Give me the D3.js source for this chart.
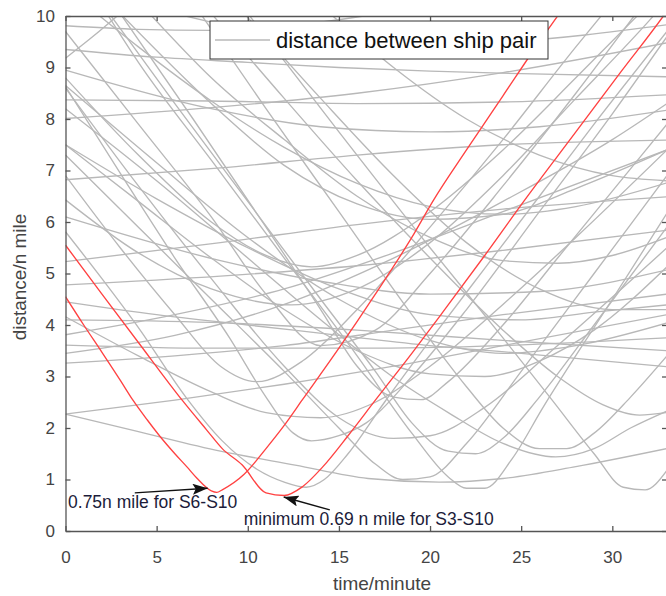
<!DOCTYPE html>
<html lang="en">
<head>
<meta charset="utf-8"/>
<title>distance between ship pair</title>
<script src="https://d3js.org/d3.v7.min.js"></script>
<style>
  body { margin: 0; background: #fff; }
  svg { display: block; font-family: "Liberation Sans", Arial, sans-serif; }
  .grey { fill: none; stroke: #b8b8b8; stroke-width: 1.35; }
  .red { fill: none; stroke: #ff4242; stroke-width: 1.35; }
  .axis path, .axis line { stroke: #555; stroke-width: 1.3; }
  .axis text { fill: #444; font-size: 17px; font-family: "Liberation Sans", Arial, sans-serif; }
  .note { fill: #1c1c3a; font-size: 17.5px; }
</style>
</head>
<body>
<svg id="chart" width="666" height="596"></svg>
<script>
// ticks
const xTicks = [0, 5, 10, 15, 20, 25, 30];
const yTicks = [0, 1, 2, 3, 4, 5, 6, 7, 8, 9, 10];

// red pairs [time, distance]
const pairS6S10 = [[0,4.55],[1,4.0],[2,3.47],[3,2.93],[3.7,2.54],[4.5,2.15],[5.2,1.83],[6,1.5],[6.65,1.25],[7.2,1.03],[8,0.78],[8.3,0.75],[8.6,0.8],[9.8,1.1],[11,1.6],[12,2.05],[13,2.55],[15,3.55],[17,4.6],[19,5.7],[20.2,6.43],[22,7.4],[24,8.45],[26,9.5],[27.1,10.05]];
const pairS3S10 = [[0,5.55],[2,4.6],[4,3.66],[6.4,2.54],[7.75,1.96],[8.6,1.6],[9.7,1.28],[11,0.74],[12,0.69],[13,0.86],[14.1,1.24],[15.5,1.85],[17,2.54],[19,3.45],[20.7,4.25],[23,5.35],[25.2,6.43],[28,7.75],[30.5,8.93],[32.8,10.0],[33,10.1]];

// the other ship pairs (grey)
const greyPairs = [
  [[0,9.81],[4,9.74],[8,9.72],[12,9.8],[16,9.98],[18,10.1]],
  [[0,9.35],[5,9.2],[10,9.1],[15,9.0],[20,8.93],[25,8.88],[33,8.82]],
  [[0,9.18],[1.5,9.6],[3,10.05]],
  [[0,8.95],[8,8.2],[14,7.85],[20,7.75],[26,7.85],[33,8.17]],
  [[0,8.63],[3,6.95],[6,5.3],[9,3.75],[11,2.6],[12.5,1.9],[13.5,1.75],[15,1.85],[16.5,2.1],[19,3.0],[22,4.3],[26,6.2],[30,8.1],[33,9.6]],
  [[0,8.6],[4,6.7],[8,4.9],[12,3.2],[15,2.2],[18,1.8],[20,1.85],[23,2.4],[27,3.6],[33,5.5]],
  [[0,8.65],[5,7.15],[10,5.7],[15,4.5],[20,3.7],[24,3.45],[28,3.6],[33,4.04]],
  [[0,8.37],[8,8.35],[16,8.3],[24,8.33],[33,8.47]],
  [[0,8.01],[8,8.22],[16,8.5],[24,8.9],[33,9.48]],
  [[0,7.5],[4,6.4],[8,5.3],[12,4.3],[16,3.5],[20,3.05],[23,3.0],[26,3.3],[29,3.9],[33,5.13]],
  [[0,7.5],[5,6.45],[10,5.5],[15,4.7],[20,4.2],[25,4.1],[29,4.25],[33,4.39]],
  [[0,7.3],[4,5.9],[8,4.5],[12,3.1],[15,2.0],[17,1.3],[18.5,1.0],[20,1.05],[22,1.7],[25,3.1],[29,5.0],[33,6.9]],
  [[0,6.82],[8.5,7.05],[16,7.3],[24,7.5],[33,7.59]],
  [[0,6.1],[8.5,5.25],[14,4.85],[20,4.6],[26,4.65],[33,5.07]],
  [[0,5.81],[2,4.9],[4,3.95],[6.6,2.6],[8.6,1.75],[10.5,1.2],[12,0.95],[13.2,0.85],[14.2,1.0],[15.5,1.5],[17.5,2.5],[20,3.7],[23,5.1],[26,6.5],[29,7.9],[33,9.7]],
  [[0,5.23],[8.5,5.6],[16,5.95],[24,6.25],[33,6.49]],
  [[0,4.78],[8.5,4.95],[16,5.15],[24,5.45],[33,5.84]],
  [[0,4.45],[5,4.2],[10,4.0],[15,3.8],[20,3.6],[25,3.45],[33,3.19]],
  [[0,4.16],[4,3.4],[8,2.7],[11,2.3],[14,2.2],[17,2.5],[20,3.2],[24,4.4],[28,5.7],[33,7.4]],
  [[0,4.1],[8,4.05],[16,3.9],[24,3.7],[33,3.5]],
  [[0,3.81],[6,4.2],[12,4.7],[18,5.4],[24,6.2],[33,7.4]],
  [[0,3.61],[8,3.55],[16,3.55],[24,3.6],[33,3.75]],
  [[0,3.45],[6,3.8],[12,4.4],[18,5.3],[24,6.4],[30,7.6],[33,8.3]],
  [[0,3.26],[6,3.4],[12,3.6],[18,3.9],[24,4.2],[33,4.6]],
  [[0,2.27],[6,2.54],[12,2.85],[18,3.2],[24,3.6],[33,4.2]],
  [[0,2.27],[4,1.93],[8.5,1.55],[12.6,1.28],[16.6,1.02],[20.5,0.95],[24,1.02],[28,1.25],[33,1.6]],
  [[1.7,10.05],[4,9.4],[8,8.35],[12,7.45],[16,6.75],[20,6.3],[24,6.15],[28,6.3],[33,6.76]],
  [[2,10.2],[4,9.1],[8,7.2],[12,5.3],[16,3.4],[19,1.9],[21,1.05],[22,0.83],[23,0.83],[24.5,1.4],[26.2,2.4],[30,4.5],[33,6.17]],
  [[10,10.05],[15,7.75],[20,5.5],[24,3.75],[26.7,2.54],[29,1.5],[30.6,0.85],[31.8,0.8],[33,1.18]],
  [[0,8.2],[5,6.8],[10,5.3],[14,4.1],[18,2.98],[21,2.3],[24,1.7],[26.9,1.44],[29,1.6],[31,2.0],[33,2.33]],
  [[2.4,10.05],[6,8.3],[10,6.4],[14,4.5],[17,3.1],[19,2.1],[21,1.55],[22.5,1.5],[24,1.8],[26,2.6],[29,4.0],[33,5.9]],
  [[4.6,10.05],[8,8.8],[12,7.6],[16,6.5],[20,5.7],[24,5.25],[27,5.2],[30,5.35],[33,5.7]],
  [[7.4,10.05],[11,8.2],[15,6.2],[19,4.2],[22,2.8],[24,2.0],[26,1.6],[27.5,1.6],[29,1.9],[31,2.6],[33,3.4]],
  [[9.8,10.05],[14,8.4],[18,6.9],[22,5.6],[26,4.7],[30,4.3],[33,4.3]],
  [[14.5,10.05],[18,9.0],[22,8.0],[26,7.3],[30,6.9],[33,6.8]],
  [[0,6.43],[4,5.4],[8,4.7],[12.4,4.39],[16,4.7],[20,5.6],[24,6.9],[28,8.4],[32,9.9],[33,10.3]],
  [[0,8.8],[4,7.3],[8,6.0],[11,5.35],[13.5,5.13],[16,5.35],[20,6.2],[24,7.4],[28,8.8],[31.5,10.05]],
  [[3,10.05],[7,8.0],[11,5.9],[14,4.3],[16,3.2],[18,2.6],[19.5,2.55],[21,2.9],[24,4.0],[27,5.3],[30,6.6],[33,7.9]],
  [[0,6.9],[3,5.5],[6,4.2],[8.5,3.2],[10.5,2.9],[13,3.3],[16,4.3],[20,5.9],[24,7.6],[28,9.4],[29.5,10.05]],
  [[0,9.7],[4,7.9],[8,6.1],[11,4.6],[14,3.6],[17,3.9],[20,5.0],[24,6.7],[28,8.5],[31.3,10.05]],
  [[8,10.05],[12,8.4],[16,6.8],[20,5.3],[24,3.9],[27,3.0],[29.5,2.45],[31.5,2.25],[33,2.3]],
  [[3,10.05],[8,8.3],[12,7.1],[16,6.35],[20,6.05],[24,6.15],[28,6.65],[33,7.4]],
  [[6,10.05],[12,9.6],[18,9.45],[24,9.5],[33,9.83]]
];

// annotations: text position, arrow tail and arrow tip in data units
const notes = [
  {label: "0.75n mile for S6-S10", at: [0.14, 0.45], from: [3.8, 0.74], to: [7.8, 0.83]},
  {label: "minimum 0.69 n mile for S3-S10", at: [9.78, 0.12], from: [14.5, 0.41], to: [11.97, 0.66]}
];
const legendLabel = "distance between ship pair";

const svg = d3.select("#chart");
const mLeft = 65.5, mRight = 667, mTop = 16, mBottom = 531;

const x = d3.scaleLinear().domain([0, 33]).range([mLeft, mRight]);
const y = d3.scaleLinear().domain([0, 10]).range([mBottom, mTop]);

svg.append("clipPath").attr("id", "plotArea")
    .append("rect")
    .attr("x", mLeft).attr("y", mTop)
    .attr("width", mRight - mLeft).attr("height", mBottom - mTop);

const line = d3.line()
    .x(d => x(d[0]))
    .y(d => y(d[1]))
    .curve(d3.curveMonotoneX);

const plot = svg.append("g").attr("clip-path", "url(#plotArea)");

plot.selectAll("path.grey")
    .data(greyPairs).enter()
    .append("path")
    .attr("class", "grey")
    .attr("d", line);

plot.selectAll("path.red")
    .data([pairS6S10, pairS3S10]).enter()
    .append("path")
    .attr("class", "red")
    .attr("d", line);

// axes, ticks inward on all four sides
svg.append("g").attr("class", "axis")
    .attr("transform", `translate(0,${mBottom})`)
    .call(d3.axisBottom(x).tickValues(xTicks).tickSize(-5).tickPadding(20).tickSizeOuter(0));
svg.append("g").attr("class", "axis")
    .attr("transform", `translate(${mLeft},0)`)
    .call(d3.axisLeft(y).tickValues(yTicks).tickSize(-5).tickPadding(10.5).tickSizeOuter(0));
svg.append("g").attr("class", "axis")
    .attr("transform", `translate(0,${mTop})`)
    .call(d3.axisTop(x).tickValues(xTicks).tickSize(-5).tickFormat("").tickSizeOuter(0));
svg.append("g").attr("class", "axis")
    .attr("transform", `translate(${mRight},0)`)
    .call(d3.axisRight(y).tickValues(yTicks).tickSize(-5).tickFormat("").tickSizeOuter(0));

svg.selectAll(".axis .domain").attr("stroke", "#555");
svg.selectAll(".axis text").attr("font-size", null).attr("font-family", null);

// axis titles
svg.append("text")
    .attr("x", 382).attr("y", 590)
    .attr("text-anchor", "middle")
    .style("font-size", "19px").style("fill", "#444")
    .text("time/minute");

svg.append("text")
    .attr("transform", "translate(26,277) rotate(-90)")
    .attr("text-anchor", "middle")
    .style("font-size", "19px").style("fill", "#444")
    .text("distance/n mile");

// arrows + texts
svg.append("defs").append("marker")
    .attr("id", "head")
    .attr("viewBox", "0 0 15 11")
    .attr("refX", 15).attr("refY", 5.5)
    .attr("markerWidth", 15).attr("markerHeight", 11)
    .attr("markerUnits", "userSpaceOnUse")
    .attr("orient", "auto")
    .append("path")
    .attr("d", "M0,0 L15,5.5 L0,11 L3,5.5 Z")
    .attr("fill", "#111");

svg.selectAll("line.arrow")
    .data(notes).enter()
    .append("line")
    .attr("class", "arrow")
    .attr("x1", d => x(d.from[0])).attr("y1", d => y(d.from[1]))
    .attr("x2", d => x(d.to[0])).attr("y2", d => y(d.to[1]))
    .attr("stroke", "#111").attr("stroke-width", 1.4)
    .attr("marker-end", "url(#head)");

svg.selectAll("text.note")
    .data(notes).enter()
    .append("text")
    .attr("class", "note")
    .attr("x", d => x(d.at[0])).attr("y", d => y(d.at[1]))
    .text(d => d.label);

// legend
const legend = svg.append("g");
legend.append("rect")
    .attr("x", 210).attr("y", 21).attr("width", 338).attr("height", 38)
    .attr("fill", "#fff").attr("stroke", "#333").attr("stroke-width", 1);
legend.append("line")
    .attr("x1", 215).attr("x2", 270).attr("y1", 40).attr("y2", 40)
    .attr("stroke", "#b8b8b8").attr("stroke-width", 1.35);
legend.append("text")
    .attr("x", 276).attr("y", 48)
    .style("font-size", "22px").style("fill", "#111")
    .text(legendLabel);
</script>
</body>
</html>
